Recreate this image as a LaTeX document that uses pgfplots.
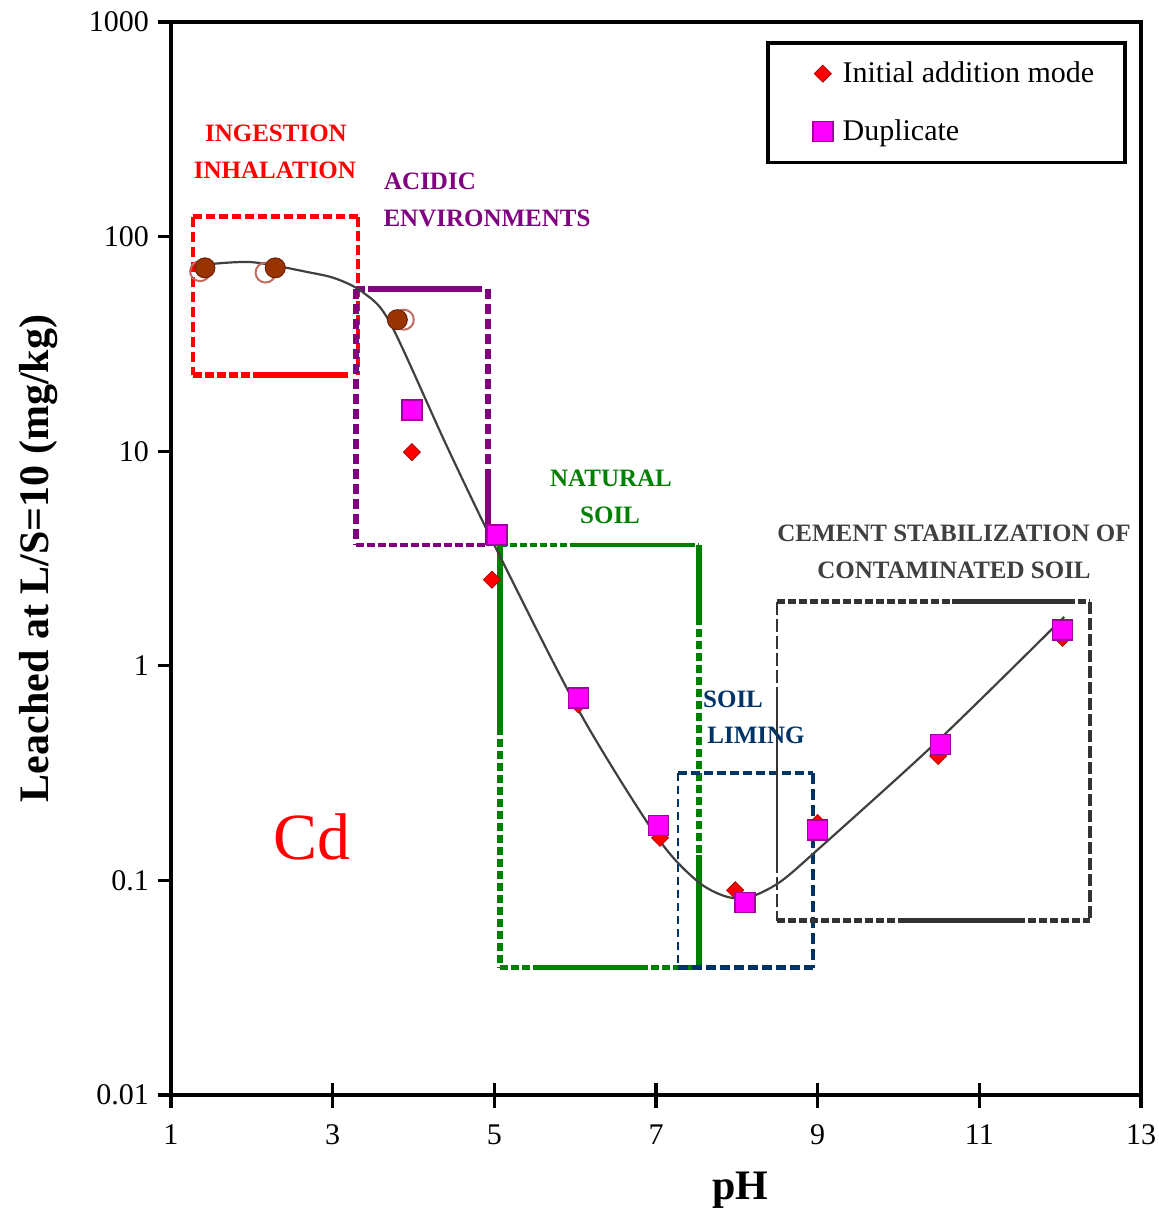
\documentclass[border=0pt]{standalone}
\usepackage{pgfplots}
\pgfplotsset{compat=1.18}
\usepackage{fontspec}
\setmainfont{Liberation Serif}
\definecolor{cdpurple}{RGB}{128,0,128}
\definecolor{cdgreen}{RGB}{0,128,0}
\definecolor{cdnavy}{RGB}{0,51,102}
\definecolor{cdgray}{RGB}{51,51,51}
\definecolor{cdbrown}{RGB}{153,51,0}
\definecolor{cdbrownedge}{RGB}{110,35,10}
\definecolor{cdhollow}{RGB}{190,110,95}
\definecolor{cdmag}{RGB}{255,0,255}
\definecolor{cdmagedge}{RGB}{160,0,160}
\begin{document}
\begin{tikzpicture}
\begin{axis}[
  scale only axis, width=485pt, height=536.5pt,
  ymode=log, xmin=1, xmax=13, ymin=0.01, ymax=1000,
  xtick={1,3,5,7,9,11,13},
  ytick={0.01,0.1,1,10,100,1000},
  yticklabels={0.01,0.1,1,10,100,1000},
  yminorticks=false,
  tick pos=left, tick align=outside, major tick length=6.5pt,
  every tick/.style={black, line width=1.6pt},
  axis line style={line width=2pt},
  /pgf/number format/assume math mode=true,
  tick label style={font=\fontsize{15}{18}\selectfont},
  xticklabel style={yshift=-5pt},
  yticklabel style={xshift=-1pt},
  xlabel={pH}, ylabel={Leached at L/S=10 (mg/kg)},
  label style={font=\bfseries\fontsize{21}{25}\selectfont},
  xlabel style={at={(axis description cs:0.587,-0.0885)}, anchor=center},
  ylabel style={at={(axis description cs:-0.137,0.5)}, anchor=center},
  legend style={at={(rel axis cs:0.9856,0.9823)}, anchor=north east, draw=black, line width=1.8pt,
    font=\fontsize{15}{18}\selectfont, inner xsep=13.5pt, inner ysep=7.5pt, row sep=13pt},
  legend cell align=left,
  legend image code/.code={\path (0pt,0pt) (20pt,0pt); \draw[#1] plot coordinates {(13pt,0pt)};},
]
% inner halves of the x ticks
\pgfplotsinvokeforeach{3,5,7,9,11}{\draw[line width=1.6pt] (axis cs:#1,0.01) -- ([yshift=6pt]axis cs:#1,0.01);}

% ---- INGESTION / INHALATION box (red)
\draw[red, line width=2.5pt, dash pattern=on 4.5pt off 2pt] (rel axis cs:0.0227,0.8183) -- (rel axis cs:0.1928,0.8183);
\draw[red, line width=2pt, dash pattern=on 5pt off 2.5pt] (rel axis cs:0.0227,0.8183) -- (rel axis cs:0.0227,0.6710);
\draw[red, line width=1.6pt, dash pattern=on 5pt off 2pt] (rel axis cs:0.1928,0.8183) -- (rel axis cs:0.1928,0.6710);
\draw[red, line width=3pt, dash pattern=on 4.5pt off 1.5pt] (rel axis cs:0.0227,0.6710) -- (rel axis cs:0.0814,0.6710);
\draw[red, line width=3pt] (rel axis cs:0.0845,0.6710) -- (rel axis cs:0.1825,0.6710);

% ---- ACIDIC ENVIRONMENTS box (purple)
\draw[cdpurple, line width=3pt, dash pattern=on 5pt off 1.5pt] (rel axis cs:0.1907,0.7512) -- (rel axis cs:0.2000,0.7512);
\draw[cdpurple, line width=3pt] (rel axis cs:0.2031,0.7512) -- (rel axis cs:0.3206,0.7512);
\draw[cdpurple, line width=3pt, dash pattern=on 5pt off 2.5pt] (rel axis cs:0.1907,0.7512) -- (rel axis cs:0.1907,0.5126);
\draw[cdpurple, line width=3pt, dash pattern=on 5pt off 2.5pt] (rel axis cs:0.3268,0.7512) -- (rel axis cs:0.3268,0.5797);
\draw[cdpurple, line width=3pt] (rel axis cs:0.3268,0.5797) -- (rel axis cs:0.3268,0.5126);
\draw[cdpurple, line width=2pt, dash pattern=on 4pt off 1.5pt] (rel axis cs:0.1907,0.5126) -- (rel axis cs:0.3268,0.5126);

% ---- NATURAL SOIL box (green)
\draw[cdgreen, line width=2pt, dash pattern=on 3.5pt off 1.5pt] (rel axis cs:0.3387,0.5126) -- (rel axis cs:0.4144,0.5126);
\draw[cdgreen, line width=2pt] (rel axis cs:0.4144,0.5126) -- (rel axis cs:0.5330,0.5126);
\draw[cdgreen, line width=2pt, dash pattern=on 3.5pt off 1.5pt] (rel axis cs:0.5330,0.5126) -- (rel axis cs:0.5439,0.5126);
\draw[cdgreen, line width=3pt] (rel axis cs:0.3387,0.5126) -- (rel axis cs:0.3387,0.3430);
\draw[cdgreen, line width=3pt, dash pattern=on 4pt off 2pt] (rel axis cs:0.3387,0.3430) -- (rel axis cs:0.3387,0.1184);
\draw[cdgreen, line width=3pt] (rel axis cs:0.5439,0.5126) -- (rel axis cs:0.5439,0.4455);
\draw[cdgreen, line width=3pt, dash pattern=on 4pt off 2pt] (rel axis cs:0.5439,0.4455) -- (rel axis cs:0.5439,0.2237);
\draw[cdgreen, line width=3pt] (rel axis cs:0.5439,0.2237) -- (rel axis cs:0.5439,0.1184);
\draw[cdgreen, line width=2.5pt, dash pattern=on 4pt off 1.5pt] (rel axis cs:0.3387,0.1184) -- (rel axis cs:0.3804,0.1184);
\draw[cdgreen, line width=2.5pt] (rel axis cs:0.3804,0.1184) -- (rel axis cs:0.4835,0.1184);
\draw[cdgreen, line width=2.5pt, dash pattern=on 4pt off 1.5pt] (rel axis cs:0.4835,0.1184) -- (rel axis cs:0.5439,0.1184);

% ---- SOIL LIMING box (navy)
\draw[cdnavy, line width=2pt, dash pattern=on 4.5pt off 2pt] (rel axis cs:0.5227,0.3001) -- (rel axis cs:0.6619,0.3001);
\draw[cdnavy, line width=1.4pt, dash pattern=on 4pt off 2.5pt] (rel axis cs:0.5227,0.3001) -- (rel axis cs:0.5227,0.1184);
\draw[cdnavy, line width=2pt, dash pattern=on 5.5pt off 2.5pt] (rel axis cs:0.6619,0.3001) -- (rel axis cs:0.6619,0.1184);
\draw[cdnavy, line width=2.5pt, dash pattern=on 5pt off 2pt] (rel axis cs:0.5227,0.1184) -- (rel axis cs:0.6619,0.1184);

% ---- CEMENT STABILIZATION box (dark grey)
\draw[cdgray, line width=2.5pt, dash pattern=on 4pt off 1.5pt] (rel axis cs:0.6247,0.4595) -- (rel axis cs:0.8052,0.4595);
\draw[cdgray, line width=2.5pt] (rel axis cs:0.8052,0.4595) -- (rel axis cs:0.9237,0.4595);
\draw[cdgray, line width=2.5pt, dash pattern=on 4pt off 1.5pt] (rel axis cs:0.9237,0.4595) -- (rel axis cs:0.9474,0.4595);
\draw[cdgray, line width=2.5pt, dash pattern=on 4pt off 1.5pt] (rel axis cs:0.6247,0.1622) -- (rel axis cs:0.7577,0.1622);
\draw[cdgray, line width=2.5pt] (rel axis cs:0.7577,0.1622) -- (rel axis cs:0.8722,0.1622);
\draw[cdgray, line width=2.5pt, dash pattern=on 4pt off 1.5pt] (rel axis cs:0.8722,0.1622) -- (rel axis cs:0.9474,0.1622);
\draw[cdgray, line width=2pt, dash pattern=on 6pt off 2pt] (rel axis cs:0.9474,0.4595) -- (rel axis cs:0.9474,0.1622);
\draw[cdgray, line width=1.2pt, dash pattern=on 6.5pt off 2pt] (rel axis cs:0.6247,0.4595) -- (rel axis cs:0.6247,0.3681);
\draw[cdgray, line width=1.2pt] (rel axis cs:0.6247,0.3681) -- (rel axis cs:0.6247,0.2190);
\draw[cdgray, line width=1.2pt, dash pattern=on 6.5pt off 2pt] (rel axis cs:0.6247,0.2190) -- (rel axis cs:0.6247,0.1622);

% ---- labels
\node[text=red, font=\bfseries\fontsize{12.5}{14}\selectfont] at (rel axis cs:0.1082,0.8966) {INGESTION};
\node[text=red, font=\bfseries\fontsize{12.5}{14}\selectfont] at (rel axis cs:0.1072,0.8621) {INHALATION};
\node[text=cdpurple, font=\bfseries\fontsize{12.5}{14}\selectfont] at (rel axis cs:0.2670,0.8518) {ACIDIC};
\node[text=cdpurple, font=\bfseries\fontsize{12.5}{14}\selectfont] at (rel axis cs:0.3258,0.8173) {ENVIRONMENTS};
\node[text=cdgreen, font=\bfseries\fontsize{12.5}{14}\selectfont] at (rel axis cs:0.4536,0.5750) {NATURAL};
\node[text=cdgreen, font=\bfseries\fontsize{12.5}{14}\selectfont] at (rel axis cs:0.4526,0.5405) {SOIL};
\node[text=cdnavy, font=\bfseries\fontsize{12.5}{14}\selectfont] at (rel axis cs:0.5794,0.3691) {SOIL};
\node[text=cdnavy, font=\bfseries\fontsize{12.5}{14}\selectfont] at (rel axis cs:0.6031,0.3355) {LIMING};
\node[text=black!75, font=\bfseries\fontsize{12.5}{14}\selectfont] at (rel axis cs:0.8072,0.5238) {CEMENT STABILIZATION OF};
\node[text=black!75, font=\bfseries\fontsize{12.5}{14}\selectfont] at (rel axis cs:0.8072,0.4893) {CONTAMINATED SOIL};
\node[text=red, font=\fontsize{33}{38}\selectfont] at (rel axis cs:0.1454,0.2404) {Cd};

% ---- data
\addplot[only marks, mark=square*, mark size=3pt, mark options={rotate=45, fill=red, draw=red!70!black, line width=0.4pt}]
  coordinates {(3.98,9.9) (4.97,2.52) (6.04,0.66) (7.05,0.158) (7.98,0.090) (9.0,0.185) (10.49,0.38) (12.03,1.35)};
\addlegendentry{Initial addition mode}
\addplot[only marks, mark=square*, mark size=5pt, mark options={fill=cdmag, draw=cdmagedge, line width=0.8pt}]
  coordinates {(3.98,15.6) (5.03,4.08) (6.04,0.71) (7.03,0.18) (8.10,0.079) (9.0,0.172) (10.52,0.43) (12.03,1.47)};
\addlegendentry{Duplicate}
\addplot[forget plot, only marks, mark=o, mark size=5pt, mark options={draw=cdhollow, line width=1pt}]
  coordinates {(1.36,69) (2.17,68) (3.88,41)};
\addplot[forget plot, only marks, mark=*, mark size=5pt, mark options={fill=cdbrown, draw=cdbrownedge, line width=0.5pt}]
  coordinates {(1.42,71.5) (2.29,71.5) (3.80,41)};
\addplot[forget plot, smooth, tension=0.5, color=black!75, line width=1.1pt]
  coordinates {(1.42,74) (2.0,76) (2.72,68) (3.05,63.5) (3.38,54.8) (3.71,39.7) (4.41,10.6)
               (5.03,3.47) (6.06,0.604) (7.01,0.160) (7.50,0.100) (7.85,0.0845) (8.14,0.0832)
               (8.52,0.0975) (9.0,0.139) (10.5,0.452) (12.05,1.69)};
\end{axis}
\pgfresetboundingbox
\useasboundingbox (-85.5pt,-59.5pt) rectangle (494pt,547.5pt);
\end{tikzpicture}
\end{document}
